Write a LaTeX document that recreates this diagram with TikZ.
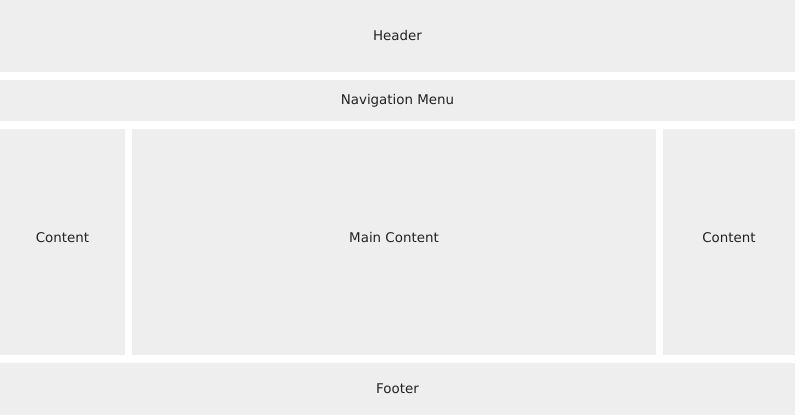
\documentclass[tikz,border=0pt]{standalone}
\usepackage{fontspec}
\setmainfont{DejaVu Sans}
\usepackage{tikz}
\usetikzlibrary{positioning}
\definecolor{panelGrey}{RGB}{238, 238, 238}
\definecolor{labelInk}{RGB}{34, 34, 34}

\begin{document}
\begin{tikzpicture}[
        x=1pt, y=1pt,
        node distance=8pt and 7pt,
        panel/.style={rectangle, fill=panelGrey, inner sep=0pt, outer sep=0pt, align=center, text=labelInk, font=\fontsize{13.4}{16}\selectfont},
        column/.style={panel, minimum height=226pt, text height=10pt, text depth=9pt},
    ]
        \useasboundingbox (0,0) rectangle (800,-418);

        % Top rows
        \node[panel, minimum width=795pt, minimum height=72pt, anchor=north west] (header) at (0,0) {Header};
        \node[panel, minimum width=795pt, minimum height=41pt, below=of header] (nav) {Navigation Menu};

        % Middle row
        \node[column, minimum width=125pt, below right=8pt and 0pt of nav.south west] (leftcol) {Content};
        \node[column, minimum width=524pt, right=of leftcol] (main) {Main Content};
        \node[column, minimum width=132pt, right=of main] (rightcol) {Content};

        % Bottom row
        \node[panel, minimum width=795pt, minimum height=52pt, below right=8pt and 0pt of leftcol.south west] (footer) {Footer};

    \end{tikzpicture}
\end{document}
